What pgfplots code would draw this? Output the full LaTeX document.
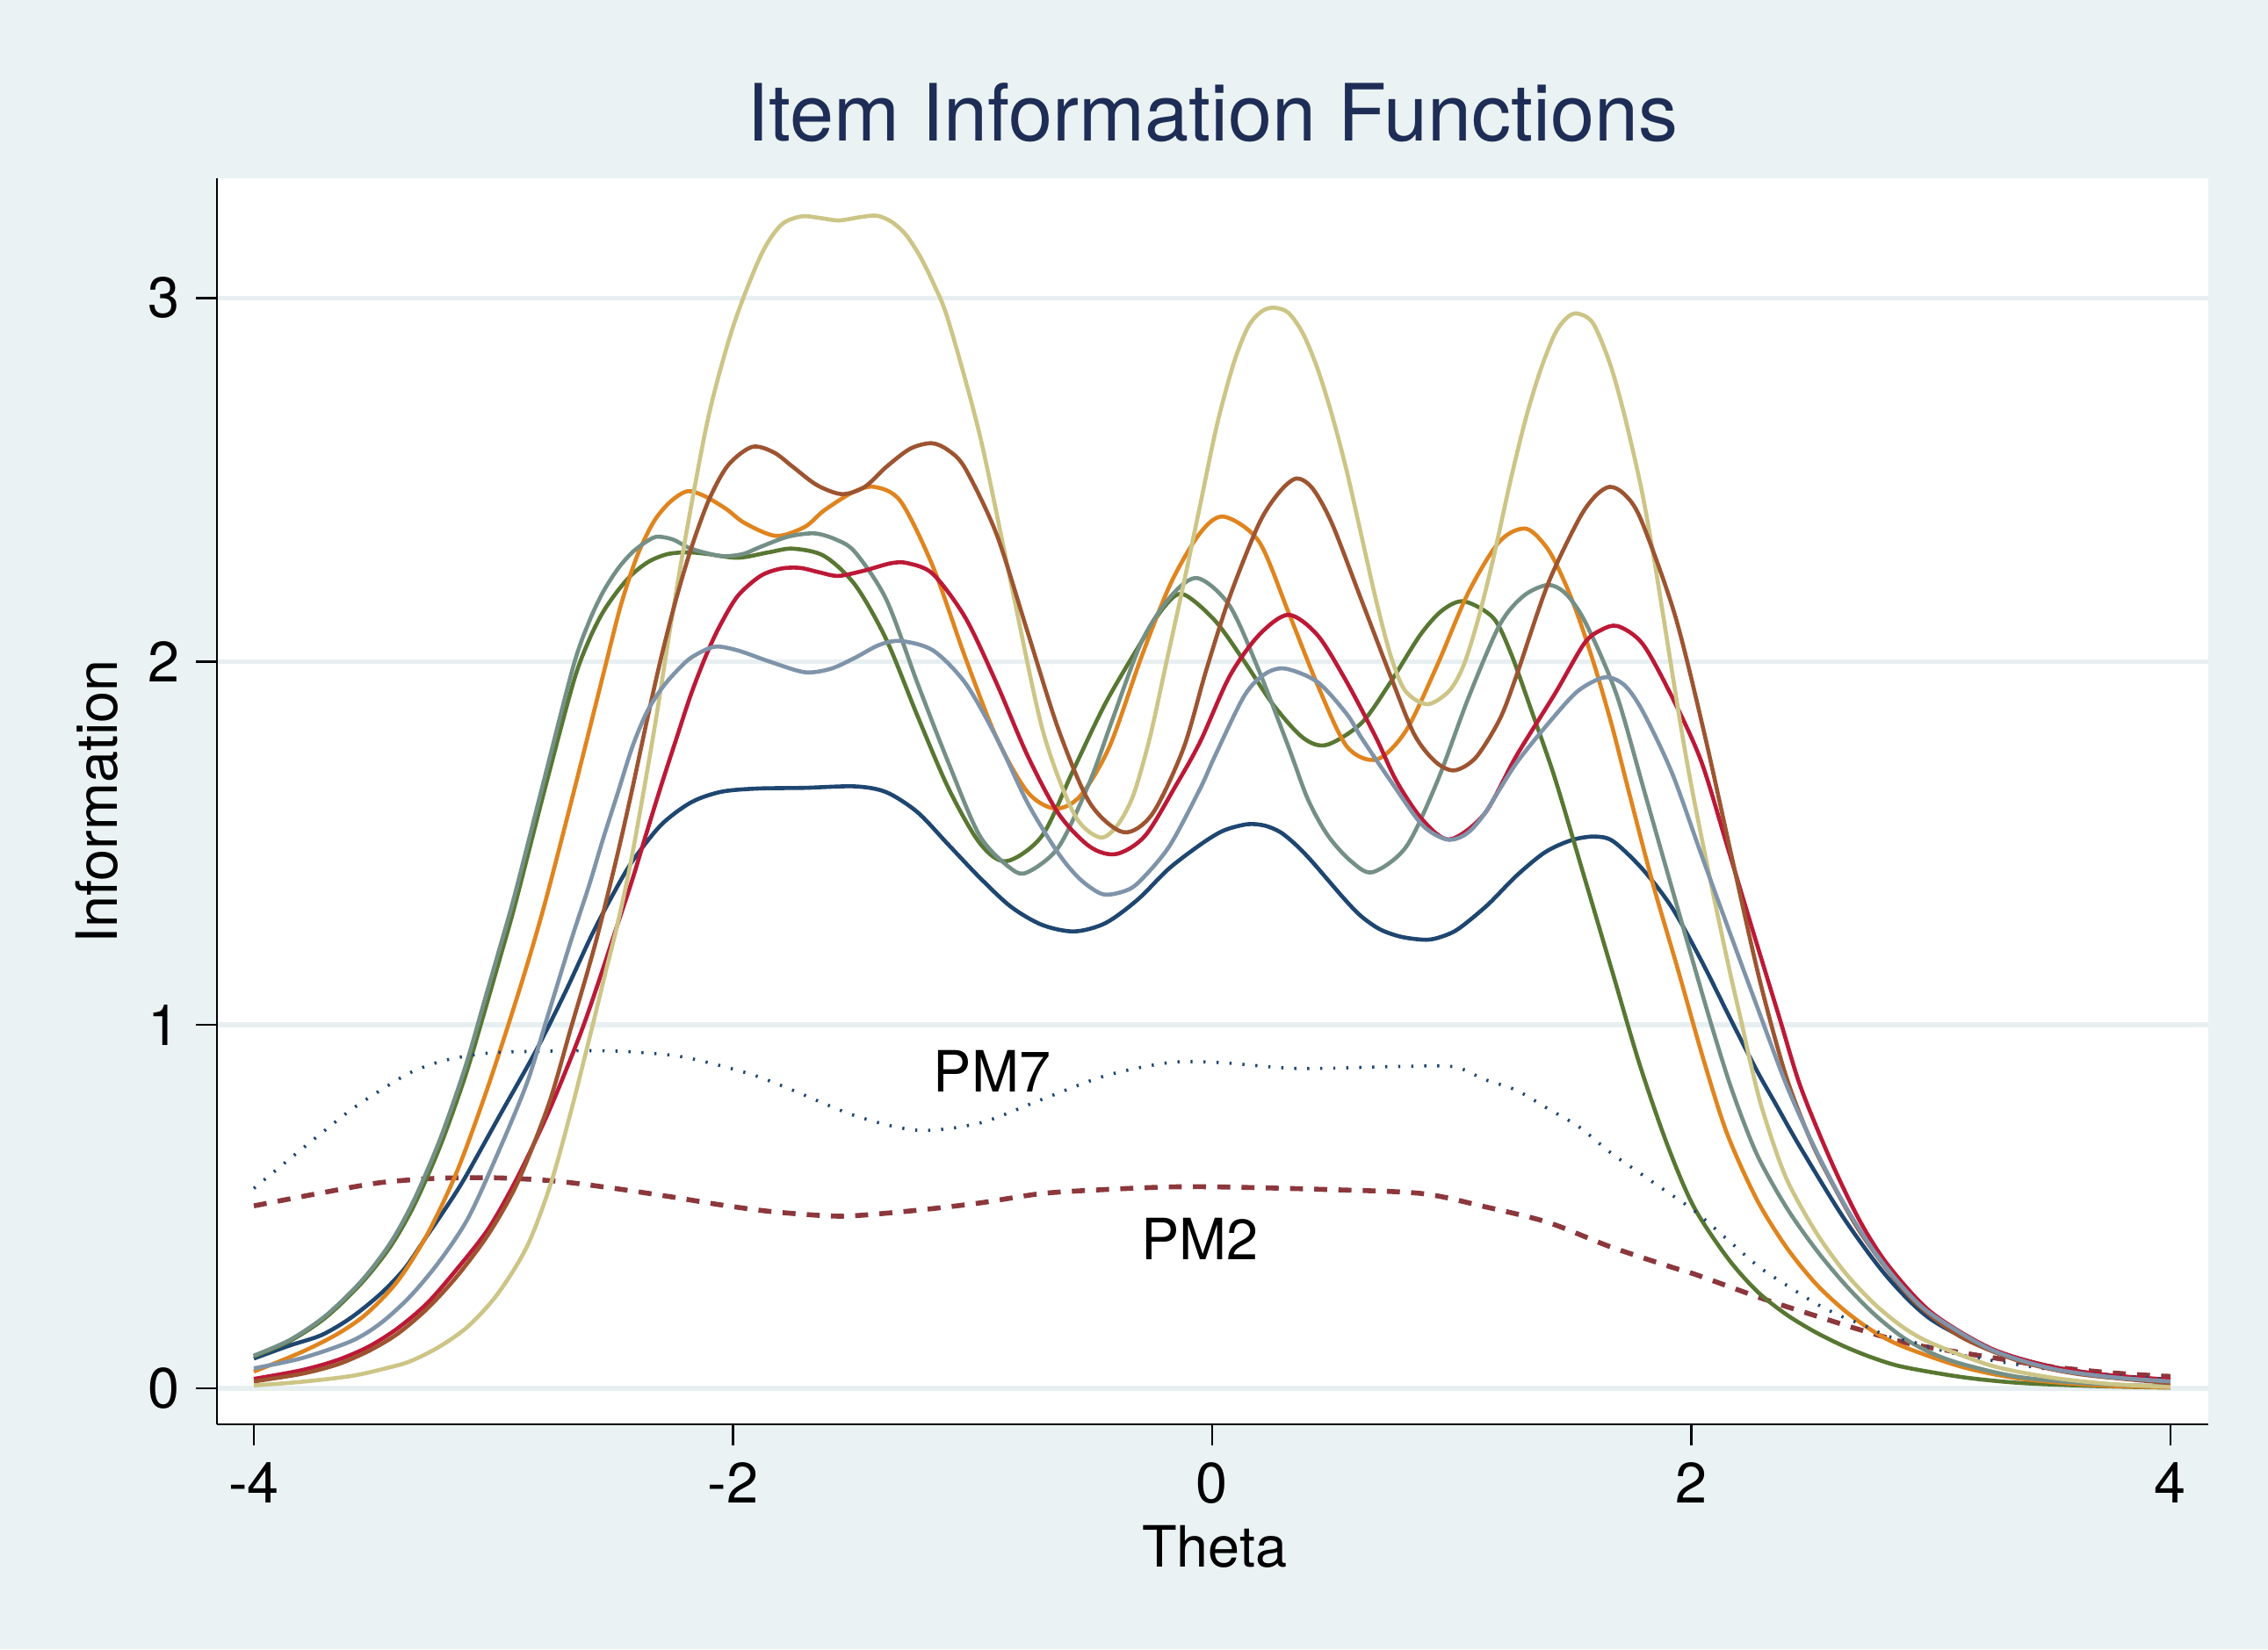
\documentclass[border=0pt]{standalone}
\usepackage{fontspec}
\setmainfont{TeX Gyre Heros}
\usepackage{pgfplots}
\pgfplotsset{compat=1.18}
\definecolor{bg}{HTML}{EAF2F3}
\definecolor{gridc}{HTML}{E7EFF1}
\definecolor{ttl}{HTML}{1E2D56}
\definecolor{cNavy}{RGB}{30,70,112}
\definecolor{cMaroon}{RGB}{140,55,60}
\definecolor{cGreen}{RGB}{88,119,50}
\definecolor{cOrange}{RGB}{224,132,30}
\definecolor{cTeal}{RGB}{116,144,134}
\definecolor{cRed}{RGB}{188,25,55}
\definecolor{cKhaki}{RGB}{204,197,134}
\definecolor{cSienna}{RGB}{157,84,48}
\definecolor{cBlue}{RGB}{127,148,169}
\begin{document}
\begin{tikzpicture}
\fill[bg] (0,0) rectangle (645.5pt,469.5pt);
\begin{axis}[
  at={(61.75pt,64pt)}, anchor=south west,
  width=566.75pt, height=354.75pt, scale only axis,
  xmin=-4.154, xmax=4.158, ymin=-0.099, ymax=3.329,
  axis background/.style={fill=white},
  axis x line*=bottom, axis y line*=left,
  axis line style={line width=0.7pt, black},
  xtick={-4,-2,0,2,4}, xticklabels={-4,-2,0,2,4},
  ytick={0,1,2,3}, yticklabels={0,1,2,3},
  tick align=outside, major tick length=6pt,
  tick style={line width=0.7pt, black},
  ymajorgrids, grid style={line width=1.3pt, color=gridc},
  ticklabel style={font=\fontsize{16.2}{19}\selectfont, inner sep=0pt},
  xticklabel style={anchor=north, yshift=-4.75pt},
  yticklabel style={anchor=east, xshift=-4.5pt},
  every axis plot/.append style={line width=1.15pt, smooth},
]
% navy
\addplot[cNavy] coordinates {(-4.00,0.082) (-3.85,0.118) (-3.716,0.147) (-3.593,0.195) (-3.471,0.26) (-3.37,0.33) (-3.276,0.421) (-3.20,0.495) (-3.12,0.578) (-2.97,0.755) (-2.823,0.928) (-2.70,1.09) (-2.591,1.245) (-2.50,1.36) (-2.42,1.45) (-2.30,1.55) (-2.175,1.612) (-2.05,1.641) (-1.90,1.650) (-1.70,1.652) (-1.49,1.656) (-1.36,1.64) (-1.23,1.585) (-1.10,1.495) (-0.97,1.405) (-0.84,1.325) (-0.71,1.275) (-0.576,1.257) (-0.445,1.28) (-0.31,1.345) (-0.18,1.43) (-0.04,1.50) (0.05,1.535) (0.148,1.552) (0.22,1.548) (0.285,1.53) (0.35,1.495) (0.416,1.45) (0.547,1.35) (0.62,1.30) (0.70,1.263) (0.79,1.242) (0.894,1.234) (0.96,1.243) (1.03,1.265) (1.15,1.33) (1.27,1.41) (1.39,1.475) (1.50,1.508) (1.595,1.518) (1.674,1.505) (1.797,1.428) (1.919,1.323) (2.041,1.178) (2.163,1.017) (2.273,0.875) (2.35,0.785) (2.456,0.662) (2.64,0.465) (2.82,0.305) (3.0,0.19) (3.25,0.107) (3.5,0.06) (3.75,0.035) (4.0,0.023)};
% PM2 dashed
\addplot[cMaroon, line width=1.4pt, dash pattern=on 3.7pt off 3.2pt] coordinates {(-4.00,0.502) (-3.716,0.538) (-3.471,0.566) (-3.227,0.578) (-2.982,0.579) (-2.738,0.57) (-2.494,0.55) (-2.25,0.526) (-2.054,0.505) (-1.85,0.487) (-1.62,0.475) (-1.49,0.475) (-1.23,0.49) (-0.97,0.51) (-0.71,0.536) (-0.445,0.547) (-0.18,0.554) (0.037,0.554) (0.48,0.547) (0.874,0.536) (1.136,0.50) (1.40,0.457) (1.66,0.39) (1.92,0.333) (2.01,0.315) (2.31,0.244) (2.517,0.20) (2.71,0.16) (2.91,0.123) (3.12,0.099) (3.31,0.079) (3.495,0.06) (3.73,0.044) (3.93,0.035) (4.0,0.033)};
% green
\addplot[cGreen] coordinates {(-4.00,0.088) (-3.85,0.13) (-3.70,0.195) (-3.55,0.29) (-3.43,0.39) (-3.33,0.505) (-3.22,0.67) (-3.117,0.86) (-3.04,1.03) (-2.97,1.19) (-2.91,1.33) (-2.787,1.645) (-2.665,1.945) (-2.60,2.06) (-2.543,2.135) (-2.48,2.195) (-2.42,2.24) (-2.35,2.275) (-2.273,2.295) (-2.19,2.30) (-2.114,2.296) (-1.98,2.285) (-1.85,2.30) (-1.75,2.31) (-1.62,2.29) (-1.49,2.21) (-1.36,2.06) (-1.23,1.85) (-1.10,1.65) (-0.97,1.50) (-0.86,1.45) (-0.71,1.52) (-0.58,1.70) (-0.445,1.885) (-0.293,2.056) (-0.20,2.15) (-0.122,2.185) (0.012,2.112) (0.134,2.0) (0.257,1.879) (0.379,1.79) (0.477,1.77) (0.623,1.83) (0.745,1.943) (0.868,2.072) (0.96,2.14) (1.051,2.165) (1.173,2.12) (1.246,2.024) (1.33,1.87) (1.43,1.68) (1.552,1.41) (1.674,1.138) (1.785,0.89) (1.90,0.67) (2.01,0.50) (2.15,0.36) (2.273,0.268) (2.395,0.204) (2.517,0.155) (2.64,0.115) (2.762,0.083) (2.884,0.059) (3.13,0.031) (3.37,0.015) (3.7,0.006) (4.0,0.002)};
% orange
\addplot[cOrange] coordinates {(-4.00,0.046) (-3.80,0.10) (-3.65,0.15) (-3.53,0.205) (-3.40,0.295) (-3.275,0.425) (-3.15,0.60) (-3.02,0.835) (-2.885,1.11) (-2.787,1.33) (-2.665,1.64) (-2.543,1.96) (-2.47,2.15) (-2.40,2.29) (-2.33,2.385) (-2.26,2.44) (-2.19,2.468) (-2.12,2.455) (-2.03,2.42) (-1.95,2.38) (-1.82,2.345) (-1.70,2.37) (-1.62,2.415) (-1.50,2.465) (-1.41,2.48) (-1.30,2.44) (-1.165,2.26) (-1.03,2.01) (-0.90,1.79) (-0.77,1.64) (-0.655,1.595) (-0.55,1.63) (-0.428,1.766) (-0.293,2.016) (-0.171,2.217) (-0.049,2.354) (0.049,2.398) (0.195,2.33) (0.318,2.136) (0.44,1.935) (0.562,1.766) (0.687,1.73) (0.81,1.81) (0.94,1.99) (1.07,2.19) (1.20,2.33) (1.31,2.365) (1.40,2.31) (1.47,2.22) (1.53,2.12) (1.60,1.98) (1.67,1.82) (1.736,1.65) (1.839,1.39) (1.943,1.155) (2.053,0.90) (2.15,0.70) (2.273,0.52) (2.395,0.39) (2.517,0.29) (2.64,0.214) (2.762,0.156) (2.884,0.115) (3.13,0.059) (3.37,0.027) (3.7,0.008) (4.0,0.003)};
% teal
\addplot[cTeal] coordinates {(-4.00,0.09) (-3.85,0.133) (-3.70,0.20) (-3.55,0.296) (-3.43,0.40) (-3.33,0.52) (-3.22,0.69) (-3.117,0.885) (-3.04,1.06) (-2.97,1.22) (-2.91,1.36) (-2.787,1.678) (-2.665,1.99) (-2.60,2.11) (-2.543,2.19) (-2.48,2.255) (-2.42,2.30) (-2.36,2.33) (-2.316,2.343) (-2.25,2.335) (-2.175,2.31) (-2.053,2.29) (-1.96,2.295) (-1.885,2.315) (-1.77,2.343) (-1.66,2.352) (-1.57,2.335) (-1.49,2.30) (-1.36,2.17) (-1.23,1.94) (-1.10,1.72) (-0.97,1.52) (-0.84,1.43) (-0.77,1.42) (-0.64,1.49) (-0.51,1.67) (-0.416,1.84) (-0.293,2.056) (-0.171,2.18) (-0.061,2.229) (0.073,2.153) (0.195,1.975) (0.318,1.766) (0.40,1.62) (0.484,1.52) (0.58,1.45) (0.67,1.42) (0.81,1.49) (0.94,1.67) (1.07,1.90) (1.20,2.10) (1.30,2.18) (1.40,2.21) (1.47,2.19) (1.54,2.129) (1.62,2.02) (1.699,1.887) (1.803,1.645) (1.907,1.404) (2.0,1.19) (2.084,1.0) (2.17,0.82) (2.273,0.645) (2.395,0.50) (2.517,0.385) (2.64,0.287) (2.762,0.205) (2.884,0.14) (3.0,0.098) (3.13,0.067) (3.37,0.031) (3.7,0.012) (4.0,0.006)};
% cranberry
\addplot[cRed] coordinates {(-4.00,0.026) (-3.80,0.05) (-3.65,0.078) (-3.52,0.115) (-3.40,0.165) (-3.275,0.235) (-3.15,0.33) (-3.02,0.44) (-2.90,0.58) (-2.77,0.76) (-2.64,0.97) (-2.56,1.12) (-2.49,1.26) (-2.42,1.40) (-2.36,1.53) (-2.298,1.662) (-2.235,1.79) (-2.175,1.91) (-2.11,2.02) (-2.053,2.10) (-1.98,2.18) (-1.885,2.235) (-1.80,2.255) (-1.72,2.257) (-1.64,2.245) (-1.56,2.235) (-1.45,2.25) (-1.34,2.27) (-1.27,2.27) (-1.165,2.24) (-1.03,2.12) (-0.90,1.94) (-0.77,1.74) (-0.64,1.58) (-0.51,1.49) (-0.40,1.47) (-0.28,1.52) (-0.15,1.66) (-0.049,1.78) (0.073,1.959) (0.195,2.072) (0.318,2.128) (0.44,2.072) (0.562,1.943) (0.684,1.79) (0.77,1.67) (0.877,1.565) (0.99,1.51) (1.136,1.58) (1.27,1.74) (1.43,1.91) (1.552,2.048) (1.62,2.085) (1.693,2.097) (1.797,2.048) (1.919,1.903) (2.041,1.726) (2.151,1.49) (2.261,1.25) (2.37,1.015) (2.456,0.83) (2.58,0.63) (2.70,0.465) (2.82,0.34) (3.0,0.21) (3.25,0.11) (3.5,0.06) (3.75,0.036) (4.0,0.024)};
% PM7 dotted
\addplot[cNavy, line width=0.9pt, dash pattern=on 0.6pt off 3.1pt] coordinates {(-4.00,0.55) (-3.838,0.638) (-3.716,0.703) (-3.593,0.767) (-3.471,0.82) (-3.349,0.868) (-3.227,0.898) (-3.105,0.915) (-2.982,0.924) (-2.738,0.928) (-2.494,0.928) (-2.25,0.916) (-2.078,0.892) (-1.906,0.86) (-1.75,0.82) (-1.49,0.75) (-1.23,0.71) (-0.97,0.73) (-0.71,0.795) (-0.445,0.86) (-0.18,0.896) (0.037,0.896) (0.353,0.88) (0.746,0.885) (1.005,0.885) (1.136,0.85) (1.27,0.82) (1.40,0.77) (1.53,0.72) (1.66,0.65) (1.79,0.59) (1.90,0.54) (2.01,0.49) (2.15,0.41) (2.285,0.333) (2.426,0.272) (2.524,0.232) (2.62,0.20) (2.725,0.172) (2.823,0.143) (2.927,0.127) (3.03,0.107) (3.14,0.09) (3.3,0.072) (3.5,0.052) (3.75,0.036) (4.0,0.025)};
% khaki
\addplot[cKhaki] coordinates {(-4.00,0.008) (-3.80,0.018) (-3.593,0.034) (-3.45,0.055) (-3.349,0.074) (-3.227,0.114) (-3.105,0.171) (-2.982,0.26) (-2.86,0.39) (-2.762,0.56) (-2.677,0.76) (-2.591,0.985) (-2.53,1.15) (-2.481,1.28) (-2.42,1.47) (-2.33,1.807) (-2.26,2.10) (-2.19,2.371) (-2.10,2.68) (-2.0,2.92) (-1.885,3.115) (-1.80,3.20) (-1.715,3.224) (-1.64,3.22) (-1.558,3.213) (-1.47,3.222) (-1.40,3.226) (-1.34,3.21) (-1.28,3.175) (-1.22,3.115) (-1.16,3.035) (-1.10,2.935) (-0.969,2.62) (-0.838,2.21) (-0.707,1.81) (-0.576,1.58) (-0.471,1.516) (-0.40,1.545) (-0.33,1.63) (-0.26,1.79) (-0.19,2.0) (-0.12,2.21) (-0.05,2.43) (0.02,2.65) (0.09,2.82) (0.15,2.92) (0.205,2.962) (0.257,2.973) (0.318,2.959) (0.379,2.902) (0.44,2.805) (0.501,2.676) (0.562,2.523) (0.623,2.346) (0.684,2.169) (0.745,2.016) (0.806,1.919) (0.898,1.882) (0.99,1.919) (1.051,1.991) (1.112,2.12) (1.173,2.281) (1.246,2.499) (1.31,2.67) (1.37,2.80) (1.43,2.90) (1.48,2.945) (1.525,2.957) (1.59,2.93) (1.66,2.82) (1.72,2.68) (1.79,2.48) (1.84,2.30) (1.882,2.129) (1.956,1.823) (2.004,1.645) (2.065,1.444) (2.114,1.29) (2.163,1.14) (2.212,1.0) (2.249,0.89) (2.30,0.76) (2.395,0.58) (2.52,0.43) (2.64,0.32) (2.76,0.235) (2.88,0.17) (3.0,0.125) (3.25,0.063) (3.5,0.03) (3.75,0.012) (4.0,0.004)};
% sienna
\addplot[cSienna] coordinates {(-4.00,0.019) (-3.80,0.04) (-3.65,0.066) (-3.52,0.103) (-3.40,0.15) (-3.275,0.22) (-3.15,0.31) (-3.02,0.425) (-2.90,0.565) (-2.77,0.78) (-2.677,0.99) (-2.61,1.14) (-2.56,1.26) (-2.48,1.475) (-2.42,1.65) (-2.36,1.835) (-2.30,2.01) (-2.24,2.165) (-2.175,2.31) (-2.10,2.445) (-2.02,2.54) (-1.92,2.59) (-1.83,2.575) (-1.75,2.535) (-1.65,2.485) (-1.545,2.46) (-1.45,2.48) (-1.36,2.535) (-1.26,2.585) (-1.17,2.60) (-1.10,2.58) (-1.03,2.53) (-0.90,2.35) (-0.77,2.08) (-0.64,1.81) (-0.51,1.61) (-0.37,1.53) (-0.25,1.58) (-0.12,1.76) (-0.025,1.975) (0.073,2.177) (0.195,2.378) (0.28,2.465) (0.352,2.503) (0.42,2.475) (0.501,2.378) (0.623,2.169) (0.745,1.959) (0.843,1.80) (0.93,1.725) (1.01,1.70) (1.10,1.735) (1.20,1.84) (1.27,1.96) (1.40,2.21) (1.53,2.39) (1.60,2.455) (1.66,2.48) (1.72,2.46) (1.79,2.39) (1.931,2.129) (2.053,1.806) (2.175,1.444) (2.286,1.122) (2.395,0.86) (2.50,0.68) (2.60,0.55) (2.70,0.435) (2.82,0.325) (2.945,0.23) (3.13,0.14) (3.37,0.075) (3.62,0.039) (4.0,0.0145)};
% emidblue
\addplot[cBlue] coordinates {(-4.00,0.055) (-3.80,0.083) (-3.593,0.13) (-3.471,0.179) (-3.349,0.252) (-3.227,0.348) (-3.105,0.469) (-2.982,0.646) (-2.86,0.84) (-2.78,1.01) (-2.677,1.23) (-2.60,1.385) (-2.543,1.51) (-2.48,1.64) (-2.42,1.765) (-2.36,1.86) (-2.298,1.925) (-2.24,1.97) (-2.175,2.01) (-2.078,2.04) (-1.98,2.03) (-1.85,2.0) (-1.70,1.97) (-1.59,1.98) (-1.49,2.01) (-1.39,2.045) (-1.30,2.056) (-1.165,2.03) (-1.03,1.94) (-0.90,1.79) (-0.77,1.61) (-0.64,1.47) (-0.55,1.40) (-0.46,1.36) (-0.38,1.365) (-0.31,1.39) (-0.18,1.49) (-0.05,1.65) (0.012,1.74) (0.134,1.905) (0.22,1.965) (0.305,1.98) (0.44,1.943) (0.562,1.855) (0.623,1.79) (0.746,1.67) (0.877,1.55) (0.98,1.51) (1.06,1.525) (1.136,1.58) (1.27,1.72) (1.43,1.85) (1.53,1.92) (1.638,1.956) (1.72,1.935) (1.797,1.863) (1.919,1.694) (2.041,1.47) (2.163,1.25) (2.286,1.03) (2.40,0.83) (2.52,0.655) (2.64,0.505) (2.76,0.38) (2.88,0.28) (3.0,0.205) (3.25,0.107) (3.5,0.055) (3.75,0.031) (4.0,0.019)};
\node[inner sep=0pt, font=\fontsize{16.2}{19}\selectfont] at (axis cs:-0.918,0.872) {PM7};
\node[inner sep=0pt, font=\fontsize{16.2}{19}\selectfont] at (axis cs:-0.052,0.41) {PM2};
\end{axis}
\node[anchor=base, inner sep=0pt, text=ttl, font=\fontsize{22.5}{27}\selectfont] at (345.2pt,429.4pt) {Item Information Functions};
\node[anchor=base, inner sep=0pt, font=\fontsize{16.2}{19}\selectfont] at (345.7pt,23.5pt) {Theta};
\node[anchor=base, inner sep=0pt, rotate=90, font=\fontsize{16.2}{19}\selectfont] at (33.35pt,241.25pt) {Information};
\pgfresetboundingbox
\path[use as bounding box] (0,0) rectangle (645.5pt,469.5pt);
\end{tikzpicture}
\end{document}
